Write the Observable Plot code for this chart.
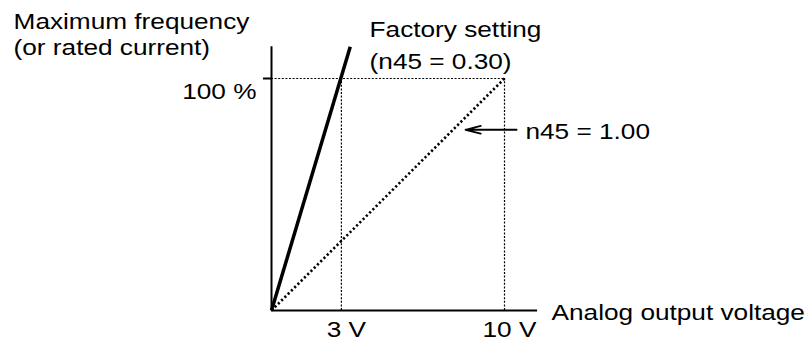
<!DOCTYPE html>
<html>
<head>
<meta charset="utf-8">
<script src="https://cdn.jsdelivr.net/npm/d3@7"></script>
<script src="https://cdn.jsdelivr.net/npm/@observablehq/plot@0.6"></script>
<style>
  html, body { margin: 0; padding: 0; background: #fff; }
</style>
</head>
<body>
<div id="chart"></div>
<script>
// ---- data ----
const xTicks = [3, 10];                 // analog output voltage (V)
const xTickLabels = ["3 V", "10 V"];
const yTicks = [100];                   // percent
const yTickLabels = ["100 %"];
const factoryV = [0, 3.38];             // n45 = 0.30 (solid line, runs past 100 %)
const factoryP = [0, 113.7];
const unityV = [0, 10];                 // n45 = 1.00 (dotted line)
const unityP = [0, 100];
const yAxisTop = 113.7;                 // axis extents
const xAxisEnd = 11.42;

const factory = factoryV.map((v, i) => ({v, p: factoryP[i]}));
const unity = unityV.map((v, i) => ({v, p: unityP[i]}));

const plot = Plot.plot({
  width: 812,
  height: 342,
  marginLeft: 271,
  marginRight: 308,
  marginTop: 78,
  marginBottom: 32,
  style: {
    fontFamily: "'Liberation Sans', Arial, sans-serif",
    fontSize: "22.5px",
    background: "white",
    color: "black",
    overflow: "visible"
  },
  x: {domain: [0, 10], range: [271, 504]},
  y: {domain: [0, 100], range: [310, 78]},
  marks: [
    // dotted guides
    Plot.ruleX(xTicks, {x: d => d, y1: 0, y2: yTicks[0], strokeWidth: 1.2, strokeDasharray: "2,1.6"}),
    Plot.ruleY(yTicks, {y: d => d, x1: 0, x2: xTicks[1], strokeWidth: 1.2, strokeDasharray: "2,1.6"}),
    // axes lines
    Plot.ruleX([0], {y1: 0, y2: yAxisTop, strokeWidth: 2}),
    Plot.ruleY([0], {x1: 0, x2: xAxisEnd, strokeWidth: 2}),
    // y tick (stroke only) and label
    Plot.axisY({ticks: yTicks, tickSize: 8, strokeWidth: 2, fill: "none", label: null}),
    Plot.axisY({ticks: yTicks, tickSize: 8, tickPadding: 7, stroke: "none", dy: 13,
      tickFormat: d => yTickLabels[yTicks.indexOf(d)], label: null}),
    // x tick labels
    Plot.axisX({ticks: xTicks, tickSize: 0, tickPadding: 11, dx: 5,
      tickFormat: d => xTickLabels[xTicks.indexOf(d)], label: null}),
    // lines
    Plot.line(unity, {x: "v", y: "p", strokeWidth: 2.6, strokeDasharray: "2.2,2.4", strokeLinecap: "butt"}),
    Plot.line(factory, {x: "v", y: "p", strokeWidth: 3.5, strokeLinecap: "butt"}),
    // arrow pointing to the dotted line
    Plot.arrow([0], {x1: 10.52, y1: 77.9, x2: 8.33, y2: 77.9, headLength: 13, headAngle: 28, strokeWidth: 1.8}),
    // annotations
    Plot.text(["Maximum frequency\n(or rated current)"], {x: -11.07, y: 110.2, text: d => d,
      textAnchor: "start", lineAnchor: "bottom", lineHeight: 1.14}),
    Plot.text(["Factory setting\n(n45 = 0.30)"], {x: 4.21, y: 104.3, text: d => d,
      textAnchor: "start", lineAnchor: "bottom", lineHeight: 1.38}),
    Plot.text(["n45 = 1.00"], {x: 10.9, y: 74.1, text: d => d, textAnchor: "start", lineAnchor: "bottom"}),
    Plot.text(["Analog output voltage"], {x: 12.02, y: -4.31, text: d => d, textAnchor: "start", lineAnchor: "bottom"})
  ]
});

// the reference lettering is horizontally wide: stretch each text about its anchor
const SX = 1.165;
d3.select(plot).selectAll("text").each(function () {
  const t = this.getAttribute("transform");
  if (t) {
    this.setAttribute("transform", t + ` scale(${SX},1)`);
  } else {
    const x = +(this.getAttribute("x") || 0);
    this.setAttribute("transform", `translate(${x},0) scale(${SX},1) translate(${-x},0)`);
  }
});

document.getElementById("chart").appendChild(plot);
</script>
</body>
</html>
